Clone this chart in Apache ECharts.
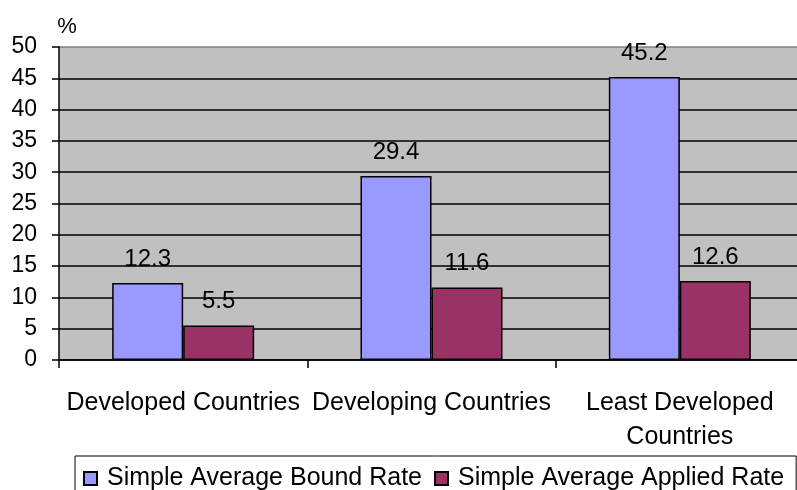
<!DOCTYPE html>
<html>
<head>
<meta charset="utf-8">
<script src="https://cdn.jsdelivr.net/npm/echarts@6/dist/echarts.min.js"></script>
<style>
html, body { margin: 0; padding: 0; background: #fff; }
#chart { width: 797px; height: 490px; }
</style>
</head>
<body>
<div id="chart"></div>
<script>
let categories = ['Developed Countries', 'Developing Countries', 'Least Developed\nCountries']; // x축 카테고리
let boundRate = [12.3, 29.4, 45.2]; // Simple Average Bound Rate
let appliedRate = [5.5, 11.6, 12.6]; // Simple Average Applied Rate
let yTicks = [0, 50, 5]; // min, max, interval

let font = 'Liberation Sans, Arial, sans-serif';

window.onload = function() {
	var myChart = echarts.init(document.getElementById('chart'));
	// 10 black grid lines then a gray one on top
	var gridColors = [];
	for (var i = 0; i < 10; i++) gridColors.push('#000');
	gridColors.push('#808080');

	var option = {
		animation: false,
		textStyle: { fontFamily: font },
		grid: {
			left: 59, top: 47, width: 745, height: 313,
			outerBoundsMode: 'none',
			show: true, backgroundColor: '#C0C0C0', borderWidth: 0
		},
		legend: {
			left: 75, top: 456, width: 715,
			borderColor: '#000', borderWidth: 1,
			padding: [10, 12, 10, 8],
			itemWidth: 13, itemHeight: 13, itemGap: 12,
			icon: 'rect',
			textStyle: { fontSize: 25, color: '#000', fontFamily: font, padding: [0, 0, 0, 5] },
			data: ['Simple Average Bound Rate', 'Simple Average Applied Rate']
		},
		xAxis: {
			type: 'category',
			data: categories,
			axisLine: { lineStyle: { color: '#000', width: 1.5 } },
			axisTick: { show: true, length: 8, lineStyle: { color: '#000', width: 1.5 } },
			axisLabel: { color: '#000', fontSize: 25, margin: 26, lineHeight: 34, fontFamily: font, interval: 0 }
		},
		yAxis: {
			type: 'value',
			min: yTicks[0], max: yTicks[1], interval: yTicks[2],
			name: '%',
			nameGap: 9,
			nameTextStyle: { color: '#000', fontSize: 22, fontFamily: font, padding: [0, 0, 0, 16] },
			axisLine: { show: true, lineStyle: { color: '#000', width: 1.5 } },
			axisTick: { show: true, length: 7, lineStyle: { color: '#000', width: 1.5 } },
			axisLabel: { color: '#000', fontSize: 23, margin: 22, fontFamily: font },
			splitLine: { show: true, lineStyle: { color: gridColors, width: 1.5 } }
		},
		series: [
			{
				name: 'Simple Average Bound Rate',
				type: 'bar',
				data: boundRate,
				barWidth: 71,
				barGap: '0%',
				itemStyle: { color: '#9999FF', borderColor: '#000', borderWidth: 1.5 },
				label: { show: true, position: 'top', distance: 12, color: '#000', fontSize: 24, fontFamily: font }
			},
			{
				name: 'Simple Average Applied Rate',
				type: 'bar',
				data: appliedRate,
				barWidth: 71,
				itemStyle: { color: '#993366', borderColor: '#000', borderWidth: 1.5 },
				label: { show: true, position: 'top', distance: 12, color: '#000', fontSize: 24, fontFamily: font }
			}
		]
	};
	myChart.setOption(option); // 차트 디스플레이
};
</script>
</body>
</html>
